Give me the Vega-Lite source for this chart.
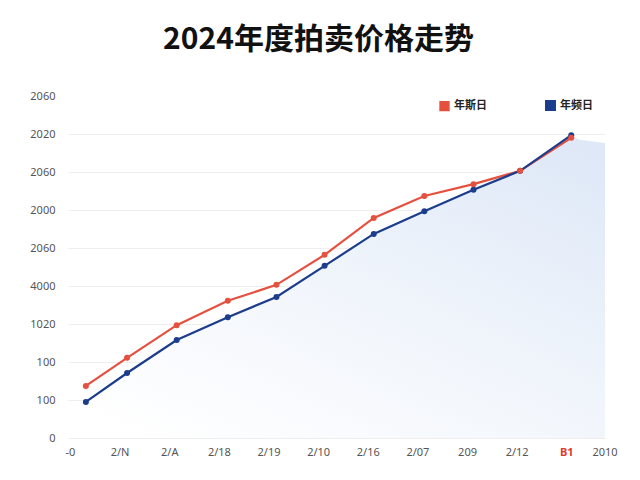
{
  "$schema": "https://vega.github.io/schema/vega-lite/v6.json",
  "autosize": {"type": "none"},
  "padding": {"left": 68, "top": 96, "right": 35, "bottom": 42},
  "width": 537,
  "height": 342,
  "background": "white",
  "config": {
    "view": {"stroke": null},
    "font": "Noto Sans CJK SC"
  },
  "title": {
    "text": "2024年度拍卖价格走势",
    "anchor": "middle",
    "fontSize": 30,
    "fontWeight": "bold",
    "color": "#111111",
    "font": "Noto Sans CJK SC",
    "offset": 35,
    "dx": -18
  },
  "datasets": {
    "prices": [
      {"x": 0.32, "value": 137, "series": "年斯日"},
      {"x": 1.15, "value": 211, "series": "年斯日"},
      {"x": 2.15, "value": 297, "series": "年斯日"},
      {"x": 3.18, "value": 361, "series": "年斯日"},
      {"x": 4.16, "value": 403, "series": "年斯日"},
      {"x": 5.13, "value": 482, "series": "年斯日"},
      {"x": 6.12, "value": 579, "series": "年斯日"},
      {"x": 7.14, "value": 637, "series": "年斯日"},
      {"x": 8.13, "value": 668, "series": "年斯日"},
      {"x": 9.07, "value": 703, "series": "年斯日"},
      {"x": 10.1, "value": 790, "series": "年斯日"},
      {"x": 0.32, "value": 95, "series": "年频日"},
      {"x": 1.15, "value": 171, "series": "年频日"},
      {"x": 2.15, "value": 258, "series": "年频日"},
      {"x": 3.18, "value": 318, "series": "年频日"},
      {"x": 4.16, "value": 371, "series": "年频日"},
      {"x": 5.13, "value": 453, "series": "年频日"},
      {"x": 6.12, "value": 537, "series": "年频日"},
      {"x": 7.14, "value": 597, "series": "年频日"},
      {"x": 8.13, "value": 653, "series": "年频日"},
      {"x": 9.07, "value": 703, "series": "年频日"},
      {"x": 10.1, "value": 797, "series": "年频日"}
    ],
    "shade": [
      {"x": 0.32, "value": 95},
      {"x": 1.15, "value": 171},
      {"x": 2.15, "value": 258},
      {"x": 3.18, "value": 318},
      {"x": 4.16, "value": 371},
      {"x": 5.13, "value": 453},
      {"x": 6.12, "value": 537},
      {"x": 7.14, "value": 597},
      {"x": 8.13, "value": 653},
      {"x": 9.07, "value": 703},
      {"x": 10.1, "value": 797},
      {"x": 10.26, "value": 785},
      {"x": 10.78, "value": 776}
    ]
  },
  "encoding": {
    "x": {
      "field": "x",
      "type": "quantitative",
      "scale": {"domain": [-0.04, 10.78], "nice": false, "zero": false},
      "axis": {
        "title": null,
        "values": [0, 1, 2, 3, 4, 5, 6, 7, 8, 9, 10, 10.77],
        "labelExpr": "datum.value > 10.5 ? '2010' : ['-0', '2/N', '2/A', '2/18', '2/19', '2/10', '2/16', '2/07', '209', '2/12', 'B1'][datum.value]",
        "labelColor": {"expr": "datum.value == 10 ? '#e03a2f' : '#555555'"},
        "labelFontWeight": {"expr": "datum.value == 10 ? 'bold' : 'normal'"},
        "labelFont": "Noto Sans",
        "labelFontSize": 11,
        "labelPadding": 8,
        "labelFlush": false,
        "labelBound": false,
        "labelOverlap": false,
        "domain": false,
        "ticks": false,
        "grid": false
      }
    },
    "y": {
      "field": "value",
      "type": "quantitative",
      "scale": {"domain": [0, 900], "nice": false},
      "axis": {
        "title": null,
        "values": [0, 100, 200, 300, 400, 500, 600, 700, 800, 900],
        "labelExpr": "['0', '100', '100', '1020', '4000', '2060', '2000', '2060', '2020', '2060'][datum.value / 100]",
        "labelColor": "#555555",
        "labelFont": "Noto Sans",
        "labelFontSize": 11,
        "labelPadding": 13,
        "domain": false,
        "ticks": false,
        "gridColor": "#eeeeee",
        "gridOpacity": {"expr": "datum.value == 900 ? 0 : 1"}
      }
    }
  },
  "layer": [
    {
      "data": {"name": "shade"},
      "mark": {
        "type": "area",
        "color": {
          "gradient": "linear",
          "x1": 0.1, "y1": 1, "x2": 0.9, "y2": 0,
          "stops": [
            {"offset": 0, "color": "#ffffff"},
            {"offset": 0.55, "color": "#eff4fb"},
            {"offset": 1, "color": "#dee8f7"}
          ]
        }
      }
    },
    {
      "data": {"name": "prices"},
      "mark": {"type": "line", "point": {"filled": true, "size": 36}, "strokeWidth": 2.2},
      "encoding": {
        "color": {
          "field": "series",
          "type": "nominal",
          "scale": {"domain": ["年斯日", "年频日"], "range": ["#e5503f", "#1b3d8c"]},
          "legend": {
            "title": null,
            "orient": "none",
            "legendX": 371,
            "legendY": 4,
            "direction": "horizontal",
            "symbolType": "square",
            "symbolSize": 70,
            "labelFontSize": 11,
            "labelFontWeight": "bold",
            "labelColor": "#222222",
            "columnPadding": 54,
            "symbolStrokeWidth": 0
          }
        },
        "order": {"field": "series", "sort": "descending"},
        "strokeWidth": {
          "field": "series",
          "type": "nominal",
          "scale": {"domain": ["年斯日", "年频日"], "range": [2, 2.6]},
          "legend": null
        }
      }
    }
  ]
}
